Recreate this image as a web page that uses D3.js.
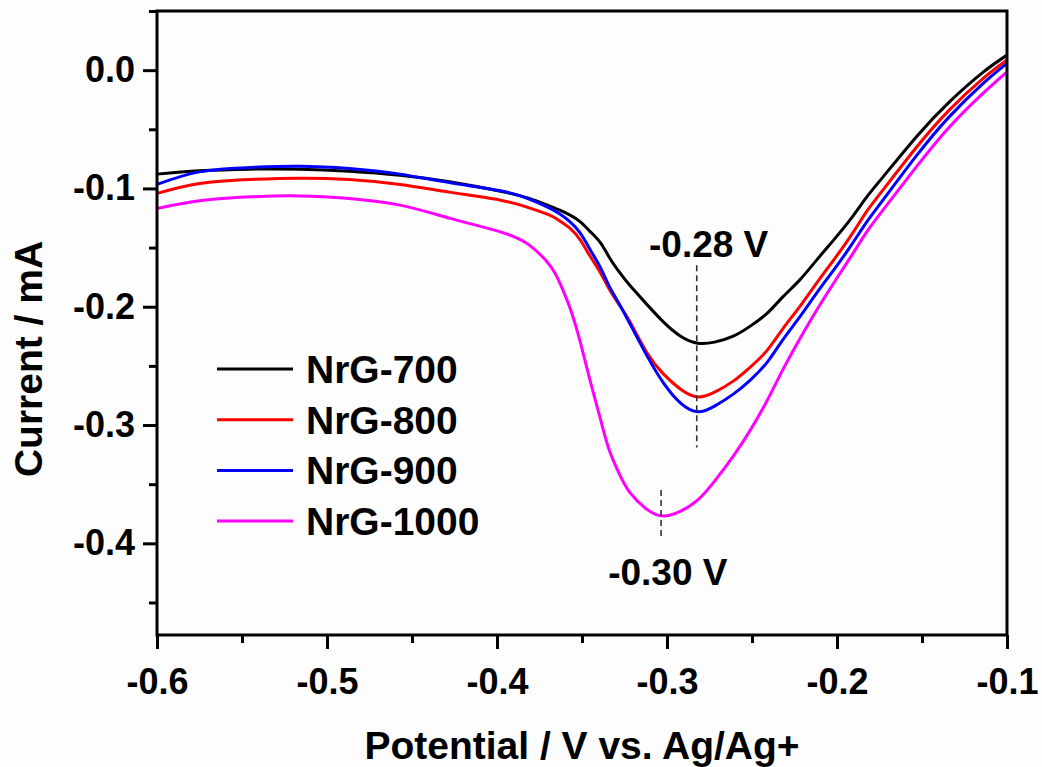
<!DOCTYPE html>
<html>
<head>
<meta charset="utf-8">
<script src="https://cdn.jsdelivr.net/npm/d3@7"></script>
<style>
  html, body { margin: 0; padding: 0; background: #fdfdfd; }
  svg { display: block; }
  text { font-family: "Liberation Sans", Arial, sans-serif; font-weight: bold; fill: #000; }
</style>
</head>
<body>
<svg id="chart" width="1042" height="767"></svg>
<script>
// ---------- data ----------
const seriesNames = ["NrG-700", "NrG-800", "NrG-900", "NrG-1000"];
const seriesColors = ["#000000", "#ff0000", "#0000ff", "#ff00ff"];

// potential (V vs. Ag/Ag+), shared by all series
const potential = [-0.600,-0.575,-0.545,-0.516,-0.487,-0.457,-0.428,-0.398,-0.381,-0.369,-0.363,-0.357,-0.351,-0.345,-0.339,-0.334,-0.328,-0.322,-0.312,-0.302,-0.292,-0.282,-0.272,-0.261,-0.251,-0.241,-0.232,-0.222,-0.212,-0.202,-0.192,-0.183,-0.173,-0.153,-0.134,-0.114,-0.100];

// current (mA)
const current700  = [-0.0879,-0.0851,-0.0837,-0.0837,-0.0854,-0.0888,-0.0944,-0.1023,-0.1085,-0.1150,-0.1183,-0.1226,-0.1282,-0.1367,-0.1462,-0.1581,-0.1708,-0.1817,-0.1978,-0.2130,-0.2249,-0.2308,-0.2299,-0.2249,-0.2164,-0.2054,-0.1919,-0.1775,-0.1606,-0.1437,-0.1260,-0.1082,-0.0904,-0.0558,-0.0270,-0.0017,0.0127];
const current800  = [-0.1042,-0.0958,-0.0924,-0.0913,-0.0924,-0.0966,-0.1031,-0.1099,-0.1164,-0.1226,-0.1276,-0.1338,-0.1437,-0.1578,-0.1716,-0.1851,-0.1986,-0.2122,-0.2384,-0.2570,-0.2697,-0.2762,-0.2722,-0.2629,-0.2511,-0.2367,-0.2189,-0.2001,-0.1801,-0.1606,-0.1403,-0.1205,-0.1014,-0.0648,-0.0338,-0.0070,0.0085];
const current900  = [-0.0966,-0.0860,-0.0822,-0.0812,-0.0831,-0.0879,-0.0951,-0.1020,-0.1090,-0.1167,-0.1217,-0.1282,-0.1378,-0.1522,-0.1674,-0.1826,-0.1978,-0.2139,-0.2409,-0.2646,-0.2815,-0.2888,-0.2840,-0.2739,-0.2620,-0.2468,-0.2282,-0.2088,-0.1885,-0.1691,-0.1488,-0.1293,-0.1099,-0.0719,-0.0395,-0.0112,0.0057];
const current1000 = [-0.1169,-0.1105,-0.1071,-0.1063,-0.1085,-0.1141,-0.1251,-0.1367,-0.1479,-0.1648,-0.1800,-0.2012,-0.2299,-0.2637,-0.2959,-0.3212,-0.3415,-0.3567,-0.3711,-0.3770,-0.3728,-0.3635,-0.3474,-0.3263,-0.3043,-0.2790,-0.2536,-0.2274,-0.2029,-0.1801,-0.1581,-0.1378,-0.1183,-0.0812,-0.0482,-0.0194,-0.0014];

const xMajorTicks = [-0.6, -0.5, -0.4, -0.3, -0.2, -0.1];
const xMinorTicks = [-0.55, -0.45, -0.35, -0.25, -0.15];
const yMajorTicks = [0.0, -0.1, -0.2, -0.3, -0.4];
const yMinorTicks = [0.05, -0.05, -0.15, -0.25, -0.35, -0.45];

const peakLabels = ["-0.28 V", "-0.30 V"];
const peakPotentials = [-0.2825, -0.3035];
const peakSpans = [[-0.165, -0.319], [-0.355, -0.397]];
const peakTextPotentials = [-0.2755, -0.2995];
const peakTextCurrents = [-0.158, -0.435];

const xTitle = "Potential / V vs. Ag/Ag+";
const yTitle = "Current / mA";

// ---------- layout ----------
const svg = d3.select("#chart");
const L = 157, R = 1007, T = 11, B = 635;
const x = d3.scaleLinear().domain([-0.6, -0.1]).range([L, R]);
const y = d3.scaleLinear().domain([-0.4775, 0.05]).range([B, T]);

const currents = [current700, current800, current900, current1000];
const series = currents.map(arr => potential.map((v, i) => ({v, c: arr[i]})));

const fmt = d => d.toFixed(1).replace("\u2212", "-");

// curves
const line = d3.line().x(d => x(d.v)).y(d => y(d.c)).curve(d3.curveNatural);
svg.append("g").selectAll("path").data(series).join("path")
  .attr("d", line)
  .attr("fill", "none")
  .attr("stroke", (d, i) => seriesColors[i])
  .attr("stroke-width", 3)
  .attr("stroke-linejoin", "round");

// peak annotations
peakPotentials.forEach((p, i) => {
  svg.append("line")
    .attr("x1", x(p)).attr("x2", x(p))
    .attr("y1", y(peakSpans[i][0])).attr("y2", y(peakSpans[i][1]))
    .attr("stroke", "#333").attr("stroke-width", 1.6)
    .attr("stroke-dasharray", "6,4");
  svg.append("text").attr("x", x(peakTextPotentials[i])).attr("y", y(peakTextCurrents[i]))
    .attr("text-anchor", "middle").attr("font-size", 37).text(peakLabels[i]);
});

// frame
svg.append("rect").attr("x", L).attr("y", T).attr("width", R - L).attr("height", B - T)
  .attr("fill", "none").attr("stroke", "#000").attr("stroke-width", 3);

// x axis
svg.append("g").attr("transform", `translate(0,${B})`)
  .call(d3.axisBottom(x).tickValues(xMajorTicks).tickSize(14).tickPadding(19).tickFormat(fmt));
svg.append("g").attr("transform", `translate(0,${B})`)
  .call(d3.axisBottom(x).tickValues(xMinorTicks).tickSize(8).tickFormat(""));

// y axis
svg.append("g").attr("transform", `translate(${L},0)`)
  .call(d3.axisLeft(y).tickValues(yMajorTicks).tickSize(14).tickPadding(8).tickFormat(fmt));
svg.append("g").attr("transform", `translate(${L},0)`)
  .call(d3.axisLeft(y).tickValues(yMinorTicks).tickSize(8).tickFormat(""));

svg.selectAll(".domain").remove();
svg.selectAll(".tick line").attr("stroke", "#000").attr("stroke-width", 3);
svg.selectAll(".tick text").attr("font-size", 36)
  .attr("font-family", "'Liberation Sans', Arial, sans-serif").attr("font-weight", "bold").attr("fill", "#000");

// axis titles
svg.append("text").attr("x", (L + R) / 2).attr("y", 759)
  .attr("text-anchor", "middle").attr("font-size", 39).text(xTitle);
svg.append("text").attr("transform", "rotate(-90)")
  .attr("x", -359).attr("y", 42)
  .attr("text-anchor", "middle").attr("font-size", 39).text(yTitle);

// legend
const legend = svg.append("g").attr("transform", "translate(217,369)");
seriesNames.forEach((name, i) => {
  const g = legend.append("g").attr("transform", `translate(0,${i * 50.7})`);
  g.append("line").attr("x1", 0).attr("x2", 76).attr("y1", 0).attr("y2", 0)
    .attr("stroke", seriesColors[i]).attr("stroke-width", 3);
  g.append("text").attr("x", 89).attr("y", 0).attr("dy", "0.36em")
    .attr("font-size", 39).text(name);
});
</script>
</body>
</html>
